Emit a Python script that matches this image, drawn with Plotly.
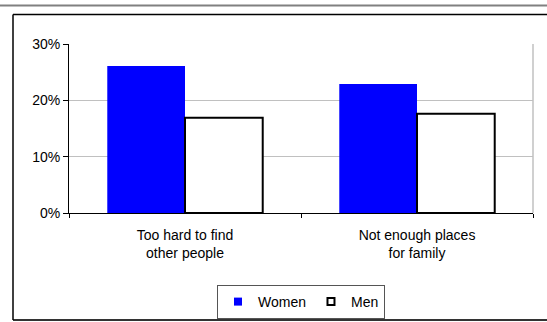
import plotly.graph_objects as go

categories = ["Too hard to find<br>other people", "Not enough places<br>for family"]
women = [26.1, 22.9]
men = [16.9, 17.6]
y_ticks = [0, 10, 20, 30]
y_tick_labels = ["0%", "10%", "20%", "30%"]

W, H = 547, 322
L, R, T, B = 69, 533, 44, 213
FONT = "Liberation Sans, Arial, sans-serif"
FS = 14


def px_x(p):
    return (p - L) / (R - L)


def px_y(p):
    return (B - p) / (B - T)


fig = go.Figure()
fig.add_trace(go.Bar(x=categories, y=women, name="Women", marker=dict(color="#0000FF", line=dict(width=0)),
                     showlegend=False))
fig.add_trace(go.Bar(x=categories, y=men, name="Men", marker=dict(color="#FFFFFF", line=dict(color="#000000", width=2)),
                     showlegend=False))
# legend entries
fig.add_trace(go.Scatter(x=[None], y=[None], mode="markers", name="Women",
                         marker=dict(symbol="square", size=8, color="#0000FF", line=dict(width=0))))
fig.add_trace(go.Scatter(x=[None], y=[None], mode="markers", name="Men",
                         marker=dict(symbol="square", size=7, color="#FFFFFF", line=dict(color="#000000", width=2))))

shapes = [
    dict(type="line", xref="paper", yref="paper", x0=px_x(0), x1=px_x(W), y0=px_y(5.5), y1=px_y(5.5),
         line=dict(color="#808080", width=2)),
    dict(type="line", xref="paper", yref="paper", x0=px_x(13), x1=px_x(W), y0=px_y(14.5), y1=px_y(14.5),
         line=dict(color="#000000", width=1.5)),
    dict(type="line", xref="paper", yref="paper", x0=px_x(13), x1=px_x(W), y0=px_y(320), y1=px_y(320),
         line=dict(color="#333333", width=2)),
    dict(type="line", xref="paper", yref="paper", x0=px_x(13), x1=px_x(13), y0=px_y(14.5), y1=px_y(320),
         line=dict(color="#000000", width=1.5)),
    dict(type="line", xref="paper", yref="paper", x0=1, x1=1, y0=0, y1=1,
         line=dict(color="#C0C0C0", width=1.5), layer="below"),
]

fig.update_layout(
    width=W, height=H,
    margin=dict(l=L, r=W - R, t=T, b=H - B, pad=0, autoexpand=False),
    paper_bgcolor="#FFFFFF", plot_bgcolor="#FFFFFF",
    font=dict(family=FONT, size=FS, color="#000000"),
    barmode="group", bargap=0.33, bargroupgap=0,
    showlegend=True,
    legend=dict(orientation="h", x=0.5, xanchor="center", y=px_y(285), yanchor="top",
                bordercolor="#555555", borderwidth=1, bgcolor="#FFFFFF",
                font=dict(family=FONT, size=FS), itemwidth=30),
    shapes=shapes,
    xaxis=dict(type="category", tickson="boundaries", ticks="outside", ticklen=4, tickcolor="#000000",
               showline=True, linecolor="#000000", linewidth=1, showgrid=False, zeroline=False,
               tickfont=dict(family=FONT, size=FS), fixedrange=True, automargin=False,
               ticklabelstandoff=9),
    yaxis=dict(range=[0, 30], tickvals=y_ticks, ticktext=y_tick_labels, ticks="outside", ticklen=5,
               tickcolor="#000000", showline=True, linecolor="#000000", linewidth=1,
               showgrid=True, gridcolor="#C0C0C0", gridwidth=1, zeroline=False,
               tickfont=dict(family=FONT, size=FS), fixedrange=True, automargin=False),
)

fig.write_html("out.html")
